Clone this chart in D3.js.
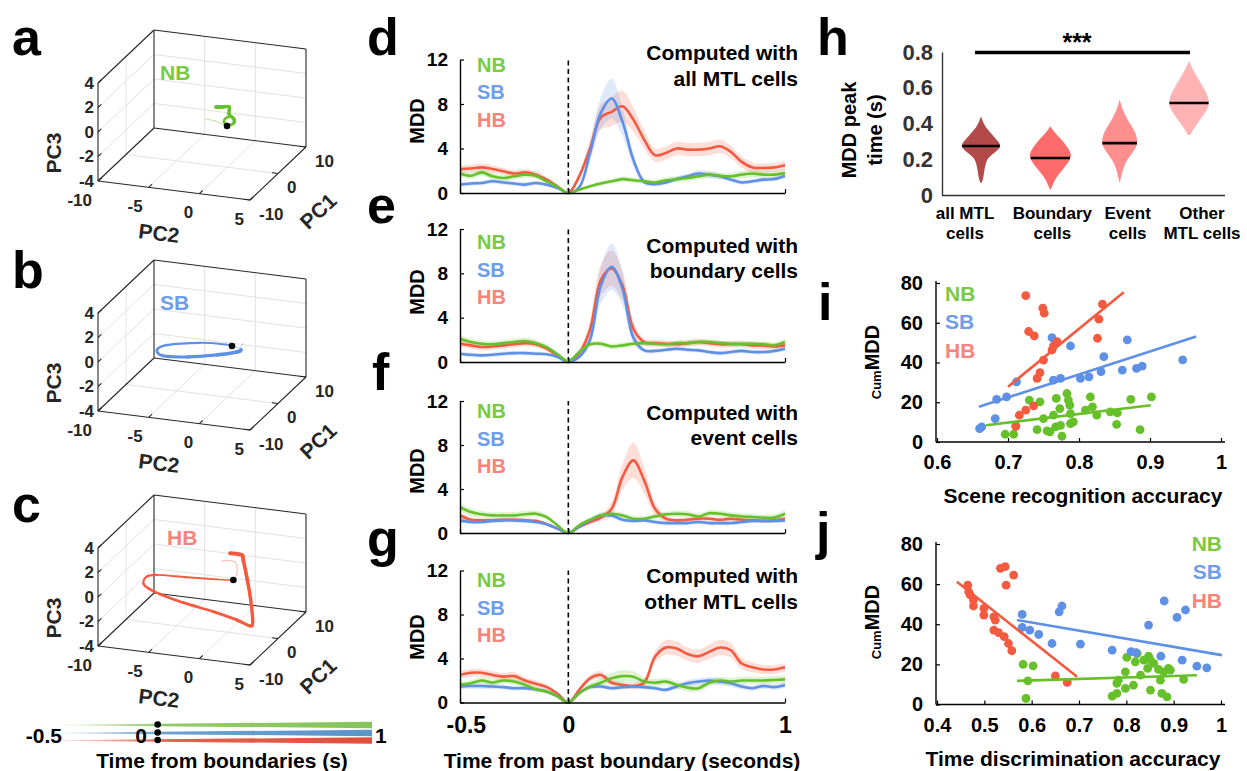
<!DOCTYPE html>
<html><head><meta charset="utf-8">
<script src="https://cdn.jsdelivr.net/npm/d3@7/dist/d3.min.js"></script>
<style>
html,body{margin:0;padding:0;background:#fff;}
text{font-family:"Liberation Sans",Arial,Helvetica,sans-serif;font-weight:bold;}
</style></head><body>
<script>
// ================= DATA =================
const groups = ["NB","SB","HB"];
const time = [-0.5,-0.45,-0.4,-0.35,-0.3,-0.25,-0.2,-0.15,-0.1,-0.05,0,0.05,0.1,0.15,0.2,0.25,0.3,0.35,0.4,0.45,0.5,0.55,0.6,0.65,0.7,0.75,0.8,0.85,0.9,0.95,1];
const mddTicks = [0,4,8,12];
const timeTicks = [-0.5,0,1];

// panel d : all MTL cells
const dNB = [1.75,1.55,1.85,1.5,1.35,1.5,1.65,1.55,1.05,0.55,0,0.3,0.6,0.85,1.05,1.25,1.15,1.05,0.95,1.15,1.25,1.35,1.5,1.65,1.55,1.5,1.65,1.75,1.65,1.65,1.8];
const dSB = [0.75,0.85,0.9,1.05,0.95,0.85,0.75,0.9,0.75,0.45,0,0.5,3.6,7.2,8.5,6.4,3.0,1.0,0.8,0.95,1.25,1.5,1.75,1.65,1.5,1.2,0.95,1.05,1.2,1.25,1.55];
const dHB = [2.15,2.2,2.3,2.15,1.95,1.75,1.85,1.65,1.2,0.6,0,1.5,4.0,6.8,7.3,7.8,6.6,4.8,3.4,3.6,4.0,3.9,3.9,4.0,4.2,3.7,2.8,2.3,2.25,2.3,2.5];
const dNBsem = [0.3,0.3,0.3,0.3,0.3,0.3,0.3,0.25,0.2,0.1,0,0.1,0.15,0.2,0.2,0.25,0.25,0.25,0.25,0.25,0.3,0.3,0.3,0.3,0.3,0.3,0.35,0.35,0.35,0.35,0.35];
const dSBsem = [0.2,0.2,0.2,0.2,0.2,0.2,0.2,0.2,0.15,0.1,0,0.15,0.8,1.4,1.8,1.3,0.6,0.25,0.2,0.2,0.2,0.25,0.3,0.3,0.25,0.2,0.2,0.2,0.2,0.2,0.25];
const dHBsem = [0.35,0.35,0.35,0.35,0.3,0.3,0.3,0.3,0.25,0.15,0,0.3,0.8,1.1,1.3,1.4,1.1,0.8,0.6,0.6,0.6,0.6,0.6,0.6,0.6,0.55,0.5,0.45,0.4,0.4,0.4];
// panel e : boundary cells
const eNB = [2.1,1.8,1.65,1.6,1.7,1.8,1.9,1.7,1.35,0.7,0.1,0.9,1.6,1.65,1.4,1.5,1.65,1.7,1.65,1.6,1.7,1.7,1.8,1.8,1.7,1.65,1.65,1.65,1.6,1.5,1.8];
const eSB = [0.75,0.65,0.6,0.65,0.75,0.8,0.8,0.75,0.7,0.45,0,0.45,2.0,6.9,8.6,6.6,2.2,1.05,1.0,1.1,1.2,1.1,1.05,0.9,0.8,0.9,1.0,0.9,0.9,1.0,1.2];
const eHB = [1.65,1.5,1.35,1.4,1.5,1.6,1.7,1.6,1.2,0.6,0,0.8,2.9,7.4,8.45,6.9,3.0,1.8,1.7,1.65,1.6,1.7,1.8,1.7,1.6,1.6,1.6,1.5,1.5,1.4,1.5];
const eNBsem = [0.35,0.3,0.3,0.3,0.3,0.3,0.3,0.3,0.25,0.15,0.05,0.15,0.2,0.25,0.25,0.25,0.25,0.25,0.25,0.25,0.25,0.25,0.25,0.25,0.25,0.25,0.25,0.25,0.25,0.25,0.3];
const eSBsem = [0.2,0.2,0.2,0.2,0.2,0.2,0.2,0.2,0.15,0.1,0,0.15,0.6,1.6,2.1,1.5,0.5,0.2,0.2,0.2,0.2,0.2,0.2,0.2,0.2,0.2,0.2,0.2,0.2,0.2,0.2];
const eHBsem = [0.3,0.3,0.3,0.3,0.3,0.3,0.3,0.3,0.25,0.15,0,0.25,0.8,1.4,1.6,1.3,0.7,0.3,0.3,0.3,0.3,0.3,0.3,0.3,0.3,0.3,0.3,0.3,0.3,0.3,0.3];
// panel f : event cells
const fNB = [2.35,1.9,1.7,1.6,1.6,1.6,1.7,1.75,1.45,0.7,0,0.7,1.2,1.6,1.75,1.6,1.3,1.3,1.5,1.7,1.75,1.7,1.5,1.8,1.75,1.6,1.5,1.45,1.4,1.4,1.75];
const fSB = [1.15,1.0,1.0,1.1,1.15,1.15,1.1,1.0,0.8,0.4,0,0.55,1.15,1.6,1.6,1.2,1.1,1.15,1.0,0.9,0.9,0.9,1.0,0.9,0.9,0.9,1.0,1.1,1.1,1.1,1.15];
const fHB = [1.6,1.2,1.15,1.15,1.2,1.2,1.15,1.1,0.8,0.4,0,0.55,1.0,1.4,2.2,5.1,6.6,4.8,2.2,1.3,1.15,1.2,1.3,1.3,1.2,1.3,1.2,1.15,1.1,1.15,1.3];
const fNBsem = [0.4,0.35,0.3,0.3,0.3,0.3,0.3,0.3,0.25,0.15,0,0.15,0.2,0.25,0.25,0.25,0.25,0.25,0.25,0.25,0.3,0.3,0.3,0.3,0.3,0.3,0.3,0.3,0.3,0.3,0.35];
const fSBsem = [0.2,0.2,0.2,0.2,0.2,0.2,0.2,0.2,0.15,0.1,0,0.1,0.2,0.25,0.25,0.2,0.2,0.2,0.2,0.2,0.2,0.2,0.2,0.2,0.2,0.2,0.2,0.2,0.2,0.2,0.2];
const fHBsem = [0.25,0.25,0.2,0.2,0.2,0.2,0.2,0.2,0.15,0.1,0,0.1,0.2,0.3,0.6,1.2,1.6,1.2,0.6,0.3,0.2,0.2,0.2,0.2,0.2,0.2,0.2,0.2,0.2,0.2,0.2];
// panel g : other MTL cells
const gNB = [1.6,1.75,2.0,1.8,2.0,1.9,1.6,1.2,1.0,0.55,0,0.85,1.45,1.8,2.2,2.4,2.35,1.9,1.8,1.9,1.6,1.35,1.3,1.8,2.0,1.9,2.0,2.0,2.0,2.05,2.1];
const gSB = [1.45,1.5,1.5,1.45,1.4,1.3,1.3,1.2,1.0,0.55,0,0.85,1.4,1.45,1.3,1.4,1.45,1.4,1.3,1.15,1.45,1.75,1.9,2.0,1.9,1.75,1.45,1.3,1.5,1.4,1.6];
const gHB = [2.5,2.7,2.7,2.5,2.35,2.4,2.0,1.7,1.4,0.8,0,1.15,2.2,2.5,1.8,1.6,1.5,1.8,4.15,5.0,4.9,4.4,4.2,4.6,5.0,4.75,3.55,3.2,3.0,3.0,3.2];
const gNBsem = [0.3,0.3,0.3,0.3,0.3,0.3,0.3,0.25,0.2,0.1,0,0.15,0.3,0.4,0.5,0.55,0.5,0.4,0.35,0.35,0.35,0.35,0.35,0.35,0.35,0.35,0.35,0.35,0.35,0.35,0.35];
const gSBsem = [0.25,0.25,0.25,0.25,0.2,0.2,0.2,0.2,0.15,0.1,0,0.1,0.2,0.2,0.2,0.2,0.2,0.2,0.2,0.2,0.25,0.3,0.3,0.3,0.3,0.3,0.25,0.25,0.25,0.25,0.25];
const gHBsem = [0.35,0.35,0.35,0.35,0.35,0.35,0.3,0.3,0.25,0.15,0,0.2,0.3,0.35,0.3,0.3,0.3,0.35,0.5,0.65,0.65,0.6,0.6,0.65,0.7,0.65,0.5,0.45,0.4,0.4,0.4];

// 3-D state-space trajectories (PC1, PC2, PC3) and time from boundary
const pc2Ticks = [-10,-5,0,5];
const pc1Ticks = [-10,0,10];
const pc3Ticks = [-4,-2,0,2,4];
const nbPC1 = [-1,-0.5,0,0,0.5,1,1,0.5,0,0,0.5,1,1,1.5,1.5,1.5];
const nbPC2 = [-1.92,-1.07,-0.52,-0.03,0.32,0.48,0.18,-0.27,-0.33,0.17,0.52,0.28,-0.11,-0.24,-0.93,-1.53];
const nbPC3 = [-0.04,-0.23,-0.53,-0.64,-0.55,-0.32,-0.10,-0.12,-0.34,-0.54,-0.44,-0.18,0.11,0.56,0.49,0.43];
const nbT   = [-0.5,-0.33,-0.17,0,0.08,0.17,0.25,0.33,0.42,0.5,0.58,0.67,0.75,0.83,0.92,1];
const sbPC1 = [2,2,1.5,1,0,-1,-2,-3,-3,-2,-1,0,1];
const sbPC2 = [1.00,0.70,0.45,0.18,-0.23,-2.41,-5.40,-6.11,-5.52,-3.43,-0.74,0.96,1.07];
const sbPC3 = [0.10,-0.34,-0.18,-0.02,0.28,0.40,0.13,-0.13,-0.55,-0.64,-0.41,-0.21,-0.26];
const sbT   = [-0.5,-0.33,-0.17,0,0.11,0.22,0.33,0.44,0.56,0.67,0.78,0.89,1];
const hbPC1 = [1,1,1.5,2,2,1,0,-1,-2,-3,-4,-5,-6,-7,-7.5,-8,-7,-4,-1,1,2,2.5];
const hbPC2 = [-0.80,0.48,0.55,0.21,0.04,-1.33,-4.01,-6.69,-7.41,-7.46,-6.70,-5.26,-2.68,0.55,3.00,4.45,4.44,3.41,2.25,1.30,0.87,-0.42];
const hbPC3 = [1.53,1.58,0.67,-0.01,-0.17,-0.04,0.07,0.20,0.20,-0.13,-0.25,-0.36,-0.57,-0.75,-1.07,-1.30,-1.16,-0.15,0.72,1.81,1.96,1.86];
const hbT   = [-0.5,-0.38,-0.25,-0.12,0,0.06,0.12,0.18,0.24,0.29,0.35,0.41,0.47,0.53,0.59,0.65,0.71,0.76,0.82,0.88,0.94,1];

// panel h : violins of MDD peak time
const violinLabels = [["all MTL","cells"],["Boundary","cells"],["Event","cells"],["Other","MTL cells"]];
const violinVals = [
  [0.44,0.40,0.363,0.326,0.288,0.27,0.242,0.214,0.186,0.14,0.084,0.065],
  [0.385,0.344,0.288,0.233,0.205,0.158,0.102,0.065,0.028],
  [0.535,0.474,0.419,0.363,0.298,0.251,0.195,0.14,0.065],
  [0.75,0.698,0.642,0.577,0.521,0.474,0.428,0.381,0.335]];
const violinDens = [
  [0,0.12,0.33,0.62,0.9,0.95,0.71,0.38,0.24,0.16,0.1,0],
  [0,0.24,0.71,1.0,0.98,0.71,0.29,0.14,0],
  [0,0.14,0.38,0.71,0.9,0.71,0.33,0.14,0],
  [0,0.19,0.48,0.81,1.0,0.86,0.57,0.29,0.05]];
const violinMedians = [0.274,0.207,0.29,0.515];
const peakTicks = [0,0.2,0.4,0.6,0.8];

// panel i : CumMDD vs scene recognition accuracy
const iNBx = [0.696,0.708,0.711,0.730,0.745,0.750,0.741,0.755,0.759,0.768,0.764,0.773,0.776,0.774,0.783,0.785,0.787,0.788,0.788,0.792,0.809,0.816,0.819,0.825,0.844,0.854,0.853,0.873,0.886,0.902,0.767];
const iNBy = [3.9,3.9,8.1,21.1,20.2,11.8,6.2,5.6,5.1,21.9,13.5,16.8,2.9,8.4,24.4,21.1,18.5,14.3,9.3,10.1,16.0,22.7,17.7,13.5,15.2,14.7,8.9,21.4,6.2,22.7,7.6];
const iSBx = [0.762,0.788,0.868,0.835,0.946,0.764,0.774,0.802,0.814,0.831,0.861,0.881,0.889,0.712,0.698,0.684,0.682,0.663,0.660];
const iSBy = [52.5,48.3,51.4,42.9,41.3,31.1,32.0,32.0,32.8,35.4,36.2,37.0,38.2,30.3,22.7,21.4,11.8,7.6,6.7];
const iHBx = [0.725,0.749,0.751,0.729,0.737,0.833,0.828,0.826,0.769,0.764,0.762,0.750,0.745,0.741,0.736,0.725,0.716,0.711];
const iHBy = [73.6,67.4,64.8,55.6,53.4,69.4,61.8,52.2,50.5,48.3,46.3,41.2,34.9,32.0,18.2,16.0,13.5,7.9];
const iFitNB = [[0.669,8.4],[0.901,18.5]];
const iFitSB = [[0.659,17.7],[0.965,53.1]];
const iFitHB = [[0.700,27.8],[0.863,75.4]];
const sceneTicks = [0.6,0.7,0.8,0.9,1];
// panel j : CumMDD vs time discrimination accuracy
const jNBx = [0.582,0.603,0.592,0.588,0.770,0.780,0.780,0.783,0.798,0.798,0.801,0.815,0.819,0.830,0.837,0.845,0.847,0.851,0.858,0.851,0.868,0.872,0.879,0.889,0.875,0.886,0.893,0.921,0.823];
const jNBy = [20.0,19.3,11.8,3.0,4.2,5.5,10.5,12.1,16.3,8.0,23.5,9.6,21.3,14.6,22.1,18.0,24.1,22.1,20.5,7.2,17.5,12.1,16.3,18.0,5.5,3.8,17.1,12.5,25.4];
const jSBx = [0.580,0.580,0.596,0.615,0.643,0.658,0.664,0.703,0.770,0.810,0.821,0.880,0.907,0.925,0.847,0.873,0.918,0.949,0.970];
const jSBy = [44.9,38.4,37.1,34.9,30.4,46.2,49.1,30.1,27.1,26.3,25.8,51.6,43.4,47.1,39.6,24.1,22.1,19.1,18.3];
const jHBx = [0.534,0.544,0.562,0.546,0.465,0.467,0.470,0.477,0.477,0.499,0.499,0.520,0.523,0.520,0.530,0.542,0.551,0.558,0.650,0.675];
const jHBy = [67.9,68.7,64.5,59.5,59.5,56.2,54.6,52.1,49.1,47.9,44.6,43.7,42.1,37.1,35.8,33.8,30.4,26.8,14.3,11.0];
const jFitNB = [[0.569,11.8],[0.949,14.6]];
const jFitSB = [[0.569,42.1],[1.002,24.6]];
const jFitHB = [[0.442,61.2],[0.696,13.8]];
const timeAccTicks = [0.4,0.5,0.6,0.7,0.8,0.9,1];
const cumTicks = [0,20,40,60,80];

// ================= STYLE =================
const COL  = {NB:"#66c02a", SB:"#5e90e6", HB:"#f45a40"};
const LEGC = {NB:"#7ac943", SB:"#6e9deb", HB:"#f8837a"};
const BAR  = {NB:"#86c45a", SB:"#5b95cb", HB:"#e0503b"};
const AX = "#262626";

const W = 1247, H = 771;
const svg = d3.select("body").append("svg").attr("width", W).attr("height", H);
svg.append("rect").attr("width", W).attr("height", H).attr("fill", "#fff");

function T(g, x, y, s, size, o = {}) {
  const t = g.append("text").attr("x", x).attr("y", y).text(s)
    .attr("font-size", size).attr("fill", o.fill || "#000")
    .attr("text-anchor", o.anchor || "start");
  if (o.mid) t.attr("dominant-baseline", "central");
  if (o.rot != null) t.attr("transform", `rotate(${o.rot},${x},${y})`);
  return t;
}

// panel letters
[["a",12,55],["b",12,288],["c",12,522],["d",367,55],["e",367,223],["f",372,390],["g",367,556],["h",817,55],["i",818,320],["j",816,549]]
  .forEach(([l,x,y]) => T(svg, x, y, l, 52));

// ================= 3-D PANELS =================
function smoothSegs(pts) {
  const n = pts.length, out = [];
  for (let i = 0; i < n - 1; i++) {
    const p0 = pts[Math.max(i-1,0)], p1 = pts[i], p2 = pts[i+1], p3 = pts[Math.min(i+2,n-1)];
    const c1 = [p1[0]+(p2[0]-p0[0])/6, p1[1]+(p2[1]-p0[1])/6];
    const c2 = [p2[0]-(p3[0]-p1[0])/6, p2[1]-(p3[1]-p1[1])/6];
    out.push(`M${p1[0]},${p1[1]}C${c1[0]},${c1[1]} ${c2[0]},${c2[1]} ${p2[0]},${p2[1]}`);
  }
  return out;
}
function draw3D(oy, key, pc1, pc2, pc3, tt, labX) {
  const g = svg.append("g").attr("transform", `translate(0,${oy})`);
  const s2x = d3.scaleLinear().domain([-10,5]).range([0,152]);
  const s2y = d3.scaleLinear().domain([-10,5]).range([0,19]);
  const s1x = d3.scaleLinear().domain([-10,10]).range([0,56]);
  const s1y = d3.scaleLinear().domain([-10,10]).range([0,-53]);
  const s3  = d3.scaleLinear().domain([-4,4]).range([0,-98]);
  const P = (a,b,c) => [98 + s2x(b) + s1x(a), 181 + s2y(b) + s1y(a) + s3(c)];
  const L = (p,q,col,w) => g.append("line").attr("x1",p[0]).attr("y1",p[1]).attr("x2",q[0]).attr("y2",q[1])
      .attr("stroke",col).attr("stroke-width",w);
  const GC = "#e2e2e2";
  [-5,0].forEach(v => { L(P(10,v,-4),P(10,v,4),GC,1); L(P(-10,v,-4),P(10,v,-4),GC,1); });
  [-2,0,2].forEach(v => { L(P(10,-10,v),P(10,5,v),GC,1); L(P(-10,-10,v),P(10,-10,v),GC,1); });
  L(P(0,-10,-4),P(0,-10,4),GC,1); L(P(0,-10,-4),P(0,5,-4),GC,1);
  const E = [[[-10,-10,-4],[-10,-10,4]],[[-10,-10,4],[10,-10,4]],[[10,-10,4],[10,5,4]],[[10,-10,-4],[10,-10,4]],
             [[10,5,-4],[10,5,4]],[[10,-10,-4],[10,5,-4]],[[-10,-10,-4],[10,-10,-4]],[[-10,-10,-4],[-10,5,-4]],[[-10,5,-4],[10,5,-4]]];
  E.forEach(([a,b]) => L(P(...a),P(...b),AX,1.1));
  pc2Ticks.forEach(v => { L(P(-10,v,-4),P(-8.8,v,-4),AX,1.1);
    const p = P(-10,v,-4); T(g, p[0]-6, p[1]+19, v, 17, {anchor:"end", mid:true, fill:AX}); });
  pc1Ticks.forEach(v => { L(P(v,5,-4),P(v,4.4,-4),AX,1.1);
    const p = P(v,5,-4); T(g, p[0]+9, p[1]+14, v, 17, {mid:true, fill:AX}); });
  pc3Ticks.forEach(v => { L(P(-10,-10,v),P(-8.8,-10,v),AX,1.1);
    const p = P(-10,-10,v); T(g, p[0]-4, p[1], v, 17, {anchor:"end", mid:true, fill:AX}); });
  T(g, 53, 153, "PC3", 21, {anchor:"middle", mid:true, rot:-90, fill:AX});
  T(g, 159, 233, "PC2", 21, {anchor:"middle", mid:true, rot:7, fill:AX});
  T(g, 318, 211, "PC1", 21, {anchor:"middle", mid:true, rot:-43, fill:AX});
  const pts = pc1.map((_,i) => P(pc1[i], pc2[i], pc3[i]));
  const segs = smoothSegs(pts);
  segs.forEach((d,i) => {
    const t = (tt[i] + tt[i+1]) / 2;
    g.append("path").attr("d", d).attr("fill","none").attr("stroke", COL[key])
      .attr("stroke-linecap","round")
      .attr("stroke-width", t < 0 ? 1 : 1.6 + 2.4*t)
      .attr("stroke-opacity", t < 0 ? 0.45 : 1);
  });
  const i0 = tt.indexOf(0);
  g.append("circle").attr("cx", pts[i0][0]).attr("cy", pts[i0][1]).attr("r", 3.3).attr("fill","#000");
  T(g, labX, 72, key, 21, {mid:true, fill:LEGC[key]});
}
draw3D(0,   "NB", nbPC1, nbPC2, nbPC3, nbT, 160);
draw3D(230, "SB", sbPC1, sbPC2, sbPC3, sbT, 160);
draw3D(465, "HB", hbPC1, hbPC2, hbPC3, hbT, 167);

// time-from-boundary legend
(function(){
  const xb = d3.scaleLinear().domain([-0.5,1]).range([55,372]);
  const wb = d3.scaleLinear().domain([-0.5,1]).range([0.3,3.2]);
  const defs = svg.append("defs");
  const yc = {NB:725, SB:733, HB:740.5};
  groups.forEach(k => {
    const gr = defs.append("linearGradient").attr("id","gr"+k).attr("x1","0").attr("x2","1").attr("y1","0").attr("y2","0");
    gr.append("stop").attr("offset","0").attr("stop-color",BAR[k]).attr("stop-opacity",0.1);
    gr.append("stop").attr("offset","0.35").attr("stop-color",BAR[k]).attr("stop-opacity",0.9);
    gr.append("stop").attr("offset","1").attr("stop-color",BAR[k]).attr("stop-opacity",1);
    const area = d3.area().x(d=>xb(d)).y0(d=>yc[k]-wb(d)).y1(d=>yc[k]+wb(d));
    svg.append("path").attr("d", area([-0.5,1])).attr("fill",`url(#gr${k})`);
    svg.append("circle").attr("cx", xb(0)-3).attr("cy", yc[k]-0.5).attr("r",3.3).attr("fill","#000");
  });
  T(svg, 62, 735, "-0.5", 21, {anchor:"end", mid:true});
  T(svg, 147, 735, "0", 21, {anchor:"end", mid:true});
  T(svg, 375, 735, "1", 21, {mid:true});
  T(svg, 222, 760, "Time from boundaries (s)", 21, {anchor:"middle", mid:true});
})();

// ================= MDD PANELS d-g =================
const xT = d3.scaleLinear().domain([-0.5,1]).range([460,785]);
const mddPanels = [
  {mean:{NB:dNB,SB:dSB,HB:dHB}, sem:{NB:dNBsem,SB:dSBsem,HB:dHBsem}, y0:193, y12:59.5, title:["Computed with","all MTL cells"], ty:[52,78], ly:64.5, my:121, xlab:false},
  {mean:{NB:eNB,SB:eSB,HB:eHB}, sem:{NB:eNBsem,SB:eSBsem,HB:eHBsem}, y0:362, y12:229, title:["Computed with","boundary cells"], ty:[245,270], ly:242, my:292, xlab:false},
  {mean:{NB:fNB,SB:fSB,HB:fHB}, sem:{NB:fNBsem,SB:fSBsem,HB:fHBsem}, y0:533, y12:401, title:["Computed with","event cells"], ty:[412,437], ly:411, my:471, xlab:false},
  {mean:{NB:gNB,SB:gSB,HB:gHB}, sem:{NB:gNBsem,SB:gSBsem,HB:gHBsem}, y0:702.5, y12:570.5, title:["Computed with","other MTL cells"], ty:[575,601], ly:580, my:637, xlab:true}
];
mddPanels.forEach(p => {
  const g = svg.append("g");
  const y = d3.scaleLinear().domain([0,12]).range([p.y0, p.y12]);
  const area = d3.area().x((d,i)=>xT(time[i])).y0((d,i)=>y(Math.max(0, d.m - d.s))).y1((d,i)=>y(d.m + d.s)).curve(d3.curveCatmullRom);
  const line = d3.line().x((d,i)=>xT(time[i])).y(d=>y(d)).curve(d3.curveCatmullRom);
  ["HB","SB","NB"].forEach(k => {
    g.append("path").attr("d", area(p.mean[k].map((m,i)=>({m, s:p.sem[k][i]}))))
      .attr("fill", COL[k]).attr("fill-opacity", 0.2);
  });
  g.append("line").attr("x1",xT(0)).attr("x2",xT(0)).attr("y1",y(0)).attr("y2",y(12))
    .attr("stroke","#000").attr("stroke-width",1.6).attr("stroke-dasharray","5,3.5");
  ["HB","SB","NB"].forEach(k => {
    g.append("path").attr("d", line(p.mean[k])).attr("fill","none").attr("stroke",COL[k]).attr("stroke-width",2.6);
  });
  const ya = g.append("g").attr("transform",`translate(${xT(-0.5)},0)`)
    .call(d3.axisLeft(y).tickValues(mddTicks).tickSize(-4).tickSizeOuter(0).tickPadding(12));
  ya.select(".domain").attr("stroke","#000").attr("stroke-width",1.4);
  ya.selectAll(".tick line").attr("stroke","#000").attr("stroke-width",1.2);
  ya.selectAll("text").attr("font-size",19).attr("fill","#000").style("font-family",'"Liberation Sans",Arial,sans-serif').style("font-weight","bold");
  const xa = g.append("g").attr("transform",`translate(0,${p.y0})`)
    .call(d3.axisBottom(xT).tickValues(timeTicks).tickSize(-4).tickSizeOuter(0).tickPadding(14)
      .tickFormat(p.xlab ? (d=>String(d)) : ()=>""));
  xa.select(".domain").attr("stroke","#000").attr("stroke-width",1.4);
  xa.selectAll(".tick line").attr("stroke","#000").attr("stroke-width",1.2);
  xa.selectAll("text").attr("font-size",23).attr("fill","#000").style("font-family",'"Liberation Sans",Arial,sans-serif').style("font-weight","bold");
  xa.selectAll(".tick").filter(d => d === -0.5).select("text").attr("text-anchor","start").attr("x",-14);
  T(g, 417, p.my, "MDD", 20, {anchor:"middle", mid:true, rot:-90});
  groups.forEach((k,i) => T(g, 477, p.ly + i*27.5, k, 20, {mid:true, fill:LEGC[k]}));
  T(g, 798, p.ty[0], p.title[0], 21, {anchor:"end", mid:true});
  T(g, 798, p.ty[1], p.title[1], 21, {anchor:"end", mid:true});
});
T(svg, 622, 760, "Time from past boundary (seconds)", 21, {anchor:"middle", mid:true});

// ================= PANEL h =================
(function(){
  const g = svg.append("g");
  const y = d3.scaleLinear().domain([0,0.8]).range([195,52]);
  const x = d3.scaleLinear().domain([0,3]).range([981,1189]);
  const w = d3.scaleLinear().domain([0,1]).range([0,21]);
  const fills = ["#b34a4a","#ff6b6b","#ff8f8f","#ffb3b3"];
  violinVals.forEach((vals,ci) => {
    const dens = violinDens[ci];
    const area = d3.area().curve(d3.curveBasis)
      .y((d,i)=>y(vals[i])).x0((d,i)=>x(ci)-w(dens[i])).x1((d,i)=>x(ci)+w(dens[i]));
    g.append("path").attr("d", area(vals)).attr("fill", fills[ci]);
    const m = violinMedians[ci];
    let dm = 0;
    for (let i = 0; i < vals.length-1; i++) {
      const a = vals[i], b = vals[i+1];
      if ((m - a) * (m - b) <= 0) { dm = dens[i] + (dens[i+1]-dens[i]) * (m - a) / (b - a); break; }
    }
    g.append("line").attr("x1",x(ci)-w(dm)*0.95).attr("x2",x(ci)+w(dm)*0.95).attr("y1",y(m)).attr("y2",y(m))
      .attr("stroke","#000").attr("stroke-width",2.6);
  });
  const ya = g.append("g").attr("transform","translate(942,0)")
    .call(d3.axisLeft(y).tickValues(peakTicks).tickSize(0).tickPadding(9).tickFormat(d=>String(d)));
  ya.select(".domain").attr("stroke","#333").attr("stroke-width",1.4);
  ya.selectAll("text").attr("font-size",22).attr("fill","#333").style("font-family",'"Liberation Sans",Arial,sans-serif').style("font-weight","bold");
  g.append("line").attr("x1",942).attr("x2",1225).attr("y1",195.5).attr("y2",195.5).attr("stroke","#333").attr("stroke-width",1.4);
  const lx = [-16, 2, 8, 13];
  violinLabels.forEach((lab,ci) => {
    T(g, x(ci)+lx[ci], 213, lab[0], 17, {anchor:"middle", mid:true});
    T(g, x(ci)+lx[ci], 233, lab[1], 17, {anchor:"middle", mid:true});
  });
  g.append("line").attr("x1",x(0)-6).attr("x2",x(3)+1).attr("y1",52.5).attr("y2",52.5).attr("stroke","#000").attr("stroke-width",3.5);
  T(g, 1077, 51, "***", 25, {anchor:"middle"});
  T(g, 849, 130, "MDD peak", 20, {anchor:"middle", mid:true, rot:-90});
  T(g, 875, 130, "time (s)", 20, {anchor:"middle", mid:true, rot:-90});
})();

// ================= PANELS i, j =================
function scatterPanel(cfg) {
  const g = svg.append("g");
  const x = d3.scaleLinear().domain(cfg.xd).range([937,1221]);
  const y = d3.scaleLinear().domain([0,80]).range([cfg.y0, cfg.y80]);
  g.append("line").attr("x1",x(cfg.xd[0])-1).attr("x2",1225).attr("y1",cfg.y0).attr("y2",cfg.y0).attr("stroke","#000").attr("stroke-width",1.4);
  g.append("line").attr("x1",x(cfg.xd[0])-1).attr("x2",x(cfg.xd[0])-1).attr("y1",cfg.y0).attr("y2",cfg.y80-2).attr("stroke","#000").attr("stroke-width",1.4);
  const ya = g.append("g").attr("transform",`translate(${x(cfg.xd[0])-1},0)`)
    .call(d3.axisLeft(y).tickValues(cumTicks).tickSize(-4).tickSizeOuter(0).tickPadding(13));
  const xa = g.append("g").attr("transform",`translate(0,${cfg.y0})`)
    .call(d3.axisBottom(x).tickValues(cfg.ticks).tickSize(-4).tickSizeOuter(0).tickPadding(13).tickFormat(d=>String(d)));
  [ya,xa].forEach(a => {
    a.select(".domain").remove();
    a.selectAll(".tick line").attr("stroke","#000").attr("stroke-width",1.2);
    a.selectAll("text").attr("font-size",20).attr("fill","#000").style("font-family",'"Liberation Sans",Arial,sans-serif').style("font-weight","bold");
  });
  groups.forEach(k => {
    const xs = cfg.pts[k][0], ys = cfg.pts[k][1];
    g.selectAll(null).data(xs).enter().append("circle")
      .attr("cx",(d)=>x(d)).attr("cy",(d,i)=>y(ys[i])).attr("r",4.4).attr("fill",COL[k]);
  });
  groups.forEach(k => {
    const f = cfg.fit[k];
    g.append("path").attr("d", d3.line().x(d=>x(d[0])).y(d=>y(d[1]))(f)).attr("stroke",COL[k]).attr("stroke-width",2.6);
  });
  groups.forEach((k,i) => T(g, cfg.legX, cfg.legY + i*28.5, k, 21, {anchor:cfg.legAnchor, mid:true, fill:LEGC[k]}));
  const lab = T(g, 872, cfg.labY, "", 20, {anchor:"middle", mid:true, rot:-90});
  lab.append("tspan").text("Cum").attr("font-size",13).attr("dy",4);
  lab.append("tspan").text("MDD").attr("font-size",20).attr("dy",-4);
  T(g, cfg.xlabX, cfg.xlabY, cfg.xlab, 21, {anchor:"middle", mid:true});
}
scatterPanel({xd:[0.6,1], ticks:sceneTicks, y0:442, y80:283,
  pts:{NB:[iNBx,iNBy], SB:[iSBx,iSBy], HB:[iHBx,iHBy]}, fit:{NB:iFitNB, SB:iFitSB, HB:iFitHB},
  legX:945, legY:293, legAnchor:"start", labY:362, xlab:"Scene recognition accuracy", xlabX:1083, xlabY:495});
scatterPanel({xd:[0.4,1], ticks:timeAccTicks, y0:704.5, y80:544,
  pts:{NB:[jNBx,jNBy], SB:[jSBx,jSBy], HB:[jHBx,jHBy]}, fit:{NB:jFitNB, SB:jFitSB, HB:jFitHB},
  legX:1222, legY:543, legAnchor:"end", labY:622, xlab:"Time discrimination accuracy", xlabX:1073, xlabY:758});
</script></body></html>
